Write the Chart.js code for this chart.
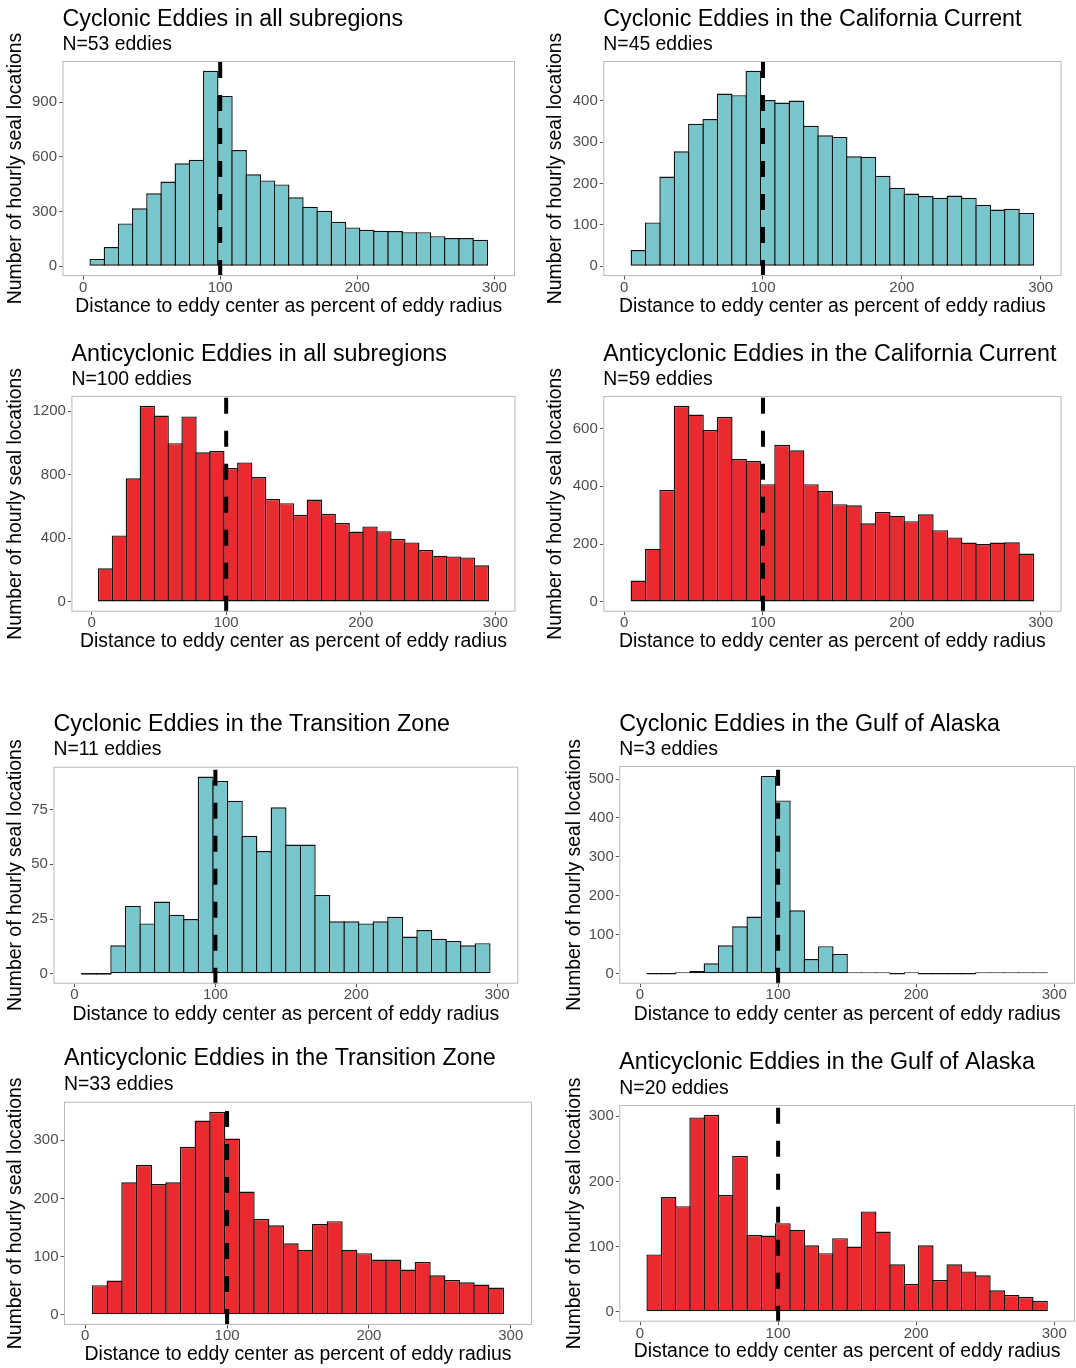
<!DOCTYPE html>
<html>
<head>
<meta charset="utf-8">
<script src="https://cdn.jsdelivr.net/npm/chart.js@4/dist/chart.umd.min.js"></script>
<style>
  html, body { margin: 0; padding: 0; background: #ffffff; }
  body { position: relative; width: 1076px; height: 1368px; overflow: hidden; }
  canvas { position: absolute; }
</style>
</head>
<body>
<script>
// ---------------- DATA ----------------
// centres of the histogram bins (bin width = 300/29)
const binCenters = [10.34, 20.69, 31.03, 41.38, 51.72, 62.07, 72.41, 82.76, 93.10, 103.45,
                    113.79, 124.14, 134.48, 144.83, 155.17, 165.52, 175.86, 186.21, 196.55, 206.90,
                    217.24, 227.59, 237.93, 248.28, 258.62, 268.97, 279.31, 289.66];
const xTicks = [0, 100, 200, 300];
const refLine = 100;
const yAxisLabel = "Number of hourly seal locations";
const xAxisLabel = "Distance to eddy center as percent of eddy radius";

const cycAllCounts  = [40, 105, 235, 318, 400, 465, 565, 584, 1073, 935, 638, 505, 471, 449, 378, 327, 304, 244, 213, 200, 195, 193, 187, 187, 165, 155, 155, 145];
const cycCCCounts   = [39, 106, 217, 278, 345, 356, 418, 414, 473, 402, 396, 401, 340, 317, 313, 266, 265, 219, 190, 176, 170, 166, 171, 166, 149, 137, 139, 129];
const antiAllCounts = [211, 418, 778, 1234, 1173, 999, 1167, 941, 949, 843, 878, 786, 648, 621, 548, 644, 554, 496, 443, 475, 445, 397, 374, 326, 291, 286, 280, 230];
const antiCCCounts  = [74, 184, 387, 678, 648, 594, 640, 494, 487, 407, 543, 524, 407, 383, 338, 334, 272, 311, 298, 279, 303, 248, 223, 205, 200, 205, 206, 167];
const cycTZCounts   = [0, 0, 13, 31, 23, 33, 27, 25, 90, 88, 79, 63, 56, 76, 59, 59, 36, 24, 24, 23, 24, 26, 17, 20, 16, 15, 13, 14];
const cycGACounts   = [0, 0, 4, 7, 27, 73, 122, 147, 508, 445, 163, 38, 71, 51, 4, 2, 2, 0, 1, 0, 0, 0, 0, 2, 1, 2, 2, 2];
const antiTZCounts  = [51, 59, 228, 258, 225, 228, 289, 334, 349, 303, 212, 165, 154, 123, 112, 156, 161, 112, 106, 95, 95, 78, 91, 68, 60, 56, 52, 47];
const antiGACounts  = [88, 176, 162, 298, 302, 179, 239, 118, 117, 136, 126, 102, 90, 113, 100, 154, 123, 73, 43, 102, 49, 73, 62, 56, 33, 26, 23, 17];

const cycAllTicks  = [0, 300, 600, 900];
const cycCCTicks   = [0, 100, 200, 300, 400];
const antiAllTicks = [0, 400, 800, 1200];
const antiCCTicks  = [0, 200, 400, 600];
const cycTZTicks   = [0, 25, 50, 75];
const cycGATicks   = [0, 100, 200, 300, 400, 500];
const antiTZTicks  = [0, 100, 200, 300];
const antiGATicks  = [0, 100, 200, 300];

const panelTitles = [
  "Cyclonic Eddies in all subregions",
  "Cyclonic Eddies in the California Current",
  "Anticyclonic Eddies in all subregions",
  "Anticyclonic Eddies in the California Current",
  "Cyclonic Eddies in the Transition Zone",
  "Cyclonic Eddies in the Gulf of Alaska",
  "Anticyclonic Eddies in the Transition Zone",
  "Anticyclonic Eddies in the Gulf of Alaska"
];
const panelSubtitles = ["N=53 eddies", "N=45 eddies", "N=100 eddies", "N=59 eddies",
                        "N=11 eddies", "N=3 eddies", "N=33 eddies", "N=20 eddies"];

// ---------------- STYLE / LAYOUT ----------------
const FONT = "'Liberation Sans', Arial, Helvetica, sans-serif";
const CYAN = '#77C6CC';
const RED = '#EA2A2E';
const TITLE_SIZE = 23.3;
const SUB_SIZE = 19.4;
const AXIS_TITLE_SIZE = 19.4;
const TICK_SIZE = 15;
const TICK_LEN = 3.5;
const BAR_BORDER = 1.4;
const TITLE_SHIFT = 1.5;

const panels = [
  {counts: cycAllCounts,  ticks: cycAllTicks,  color: CYAN, cl: 0,   ct: 0,    yTitleX: 15.5,  box: [62.5, 61, 515, 276],        titleBase: 26,     subBase: 50,   tickMid: 287.7,  xTitleMid: 306.4},
  {counts: cycCCCounts,   ticks: cycCCTicks,   color: CYAN, cl: 540, ct: 0,    yTitleX: 555.5, box: [603.3, 61, 1061.5, 276],    titleBase: 26,     subBase: 50,   tickMid: 287.7,  xTitleMid: 306.4},
  {counts: antiAllCounts, ticks: antiAllTicks, color: RED,  cl: 0,   ct: 330,  yTitleX: 15.5,  box: [71.4, 396, 515.5, 611.7],   titleBase: 361,    subBase: 385,  tickMid: 622.7,  xTitleMid: 641.4},
  {counts: antiCCCounts,  ticks: antiCCTicks,  color: RED,  cl: 540, ct: 330,  yTitleX: 555.5, box: [603.3, 396, 1061.5, 611.7], titleBase: 361,    subBase: 385,  tickMid: 622.7,  xTitleMid: 641.4},
  {counts: cycTZCounts,   ticks: cycTZTicks,   color: CYAN, cl: 0,   ct: 700,  yTitleX: 15.5,  box: [53.4, 766.7, 518.3, 983.7], titleBase: 731,    subBase: 755,  tickMid: 995.3,  xTitleMid: 1014.4},
  {counts: cycGACounts,   ticks: cycGATicks,   color: CYAN, cl: 560, ct: 700,  yTitleX: 575,   box: [619.3, 766, 1075, 983.7],   titleBase: 731,    subBase: 755,  tickMid: 995.3,  xTitleMid: 1015},
  {counts: antiTZCounts,  ticks: antiTZTicks,  color: RED,  cl: 0,   ct: 1035, yTitleX: 15.5,  box: [64, 1101.7, 532, 1325],     titleBase: 1065,   subBase: 1090, tickMid: 1336,   xTitleMid: 1355},
  {counts: antiGACounts,  ticks: antiGATicks,  color: RED,  cl: 560, ct: 1035, yTitleX: 575,   box: [619.3, 1105, 1075, 1321.7], titleBase: 1069.3, subBase: 1094, tickMid: 1333.7, xTitleMid: 1351.7}
];

const decoPlugin = {
  id: 'panelDeco',
  afterDatasetsDraw(chart) {
    const {ctx, chartArea: a, scales: {x}} = chart;
    const px = x.getPixelForValue(refLine);
    ctx.save();
    ctx.strokeStyle = '#000000';
    ctx.lineWidth = 4;
    ctx.setLineDash([16, 17]);
    ctx.beginPath();
    ctx.moveTo(px, a.bottom);
    ctx.lineTo(px, a.top);
    ctx.stroke();
    ctx.setLineDash([]);
    ctx.strokeStyle = '#b8b8b8';
    ctx.lineWidth = 1;
    ctx.strokeRect(a.left + 0.5, a.top + 0.5, a.right - a.left - 1, a.bottom - a.top - 1);
    ctx.restore();
  }
};

function buildPanel(p, idx) {
  const [bL, bT, bR, bB] = p.box;
  const cl = p.cl, ct = p.ct;
  const cr = Math.ceil(bR + 1);
  const cw = cr - cl;
  const ch = Math.ceil(p.xTitleMid + 14 - ct);

  const canvas = document.createElement('canvas');
  canvas.width = cw; canvas.height = ch;
  canvas.style.left = cl + 'px'; canvas.style.top = ct + 'px';
  canvas.style.width = cw + 'px'; canvas.style.height = ch + 'px';
  document.body.appendChild(canvas);

  // titles (line height 1)
  const tMid = p.titleBase + TITLE_SHIFT - 0.3465 * TITLE_SIZE - ct;
  const tPadTop = tMid - TITLE_SIZE / 2;
  const sMid = p.subBase + TITLE_SHIFT - 0.3465 * SUB_SIZE - ct;
  const sBoxTop = tPadTop + TITLE_SIZE;
  const sPadTop = sMid - SUB_SIZE / 2 - sBoxTop;
  const sPadBottom = (bT - ct) - (sBoxTop + sPadTop + SUB_SIZE);

  const yWidth = bL - cl;
  const yTitlePad = p.yTitleX - cl - AXIS_TITLE_SIZE / 2;
  const xHeight = ch - (bB - ct);
  const xTitlePad = ch - (p.xTitleMid - ct) - AXIS_TITLE_SIZE / 2;
  const xTickPad = Math.max(0, p.tickMid - bB - TICK_LEN - TICK_SIZE / 2);

  const ymaxData = Math.max(...p.counts);
  const binPx = (bR - bL) * (binCenters[1] - binCenters[0]) / 330;
  const overlap = (binPx + BAR_BORDER) / binPx;

  new Chart(canvas, {
    type: 'bar',
    data: {
      datasets: [{
        data: binCenters.map((c, i) => ({x: c, y: p.counts[i]})),
        backgroundColor: p.color,
        borderColor: '#111111',
        borderWidth: BAR_BORDER,
        borderSkipped: false,
        barPercentage: overlap,
        categoryPercentage: 1,
        minBarLength: 1.6
      }]
    },
    options: {
      responsive: false,
      animation: false,
      events: [],
      layout: {padding: {left: 0, top: 0, bottom: 0, right: cr - bR}},
      plugins: {
        legend: {display: false},
        tooltip: {enabled: false},
        title: {
          display: true, text: panelTitles[idx], align: 'start', fullSize: false,
          color: '#000000', font: {family: FONT, size: TITLE_SIZE, weight: 'normal', lineHeight: 1},
          padding: {top: tPadTop, bottom: 0}
        },
        subtitle: {
          display: true, text: panelSubtitles[idx], align: 'start', fullSize: false,
          color: '#000000', font: {family: FONT, size: SUB_SIZE, weight: 'normal', lineHeight: 1},
          padding: {top: sPadTop, bottom: sPadBottom}
        }
      },
      scales: {
        x: {
          type: 'linear', min: -15, max: 315, offset: false,
          afterBuildTicks: s => { s.ticks = xTicks.map(v => ({value: v})); },
          afterFit: s => { s.height = xHeight; },
          ticks: {callback: v => String(v), color: '#4d4d4d', autoSkip: false, maxRotation: 0,
                  padding: xTickPad, font: {family: FONT, size: TICK_SIZE, lineHeight: 1}},
          grid: {display: true, drawOnChartArea: false, drawTicks: true, tickLength: TICK_LEN, color: '#555555', offset: false},
          border: {display: false},
          title: {display: true, text: xAxisLabel, color: '#000000',
                  font: {family: FONT, size: AXIS_TITLE_SIZE, lineHeight: 1},
                  padding: {top: 0, bottom: xTitlePad}}
        },
        y: {
          type: 'linear', min: -0.05 * ymaxData, max: 1.05 * ymaxData,
          afterBuildTicks: s => { s.ticks = p.ticks.map(v => ({value: v})); },
          afterFit: s => { s.width = yWidth; },
          ticks: {callback: v => String(v), color: '#4d4d4d', autoSkip: false,
                  padding: 2, font: {family: FONT, size: TICK_SIZE, lineHeight: 1}},
          grid: {display: true, drawOnChartArea: false, drawTicks: true, tickLength: TICK_LEN, color: '#555555'},
          border: {display: false},
          title: {display: true, text: yAxisLabel, color: '#000000',
                  font: {family: FONT, size: AXIS_TITLE_SIZE, lineHeight: 1},
                  padding: {top: yTitlePad, bottom: 0}}
        }
      }
    },
    plugins: [decoPlugin]
  });
}

panels.forEach(buildPanel);
</script>
</body>
</html>
